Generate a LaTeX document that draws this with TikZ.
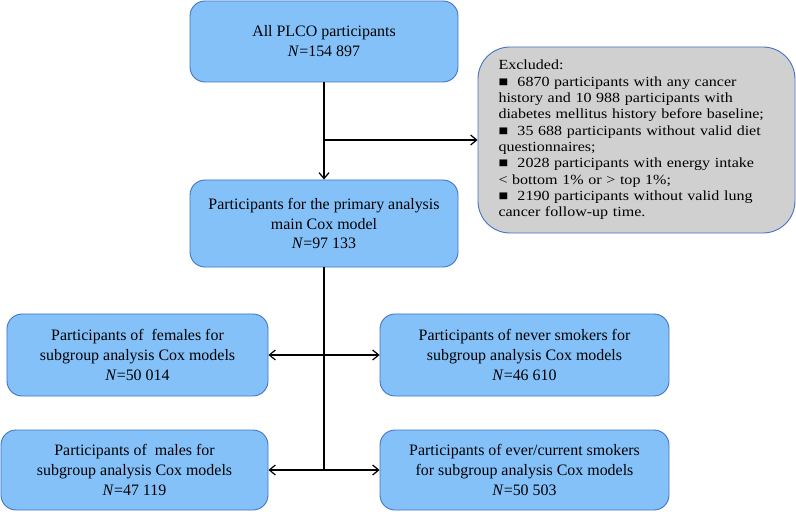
\documentclass[tikz,border=0pt]{standalone}
\usepackage{fontspec}
\setmainfont{Liberation Serif}
\newfontfamily\exclfont{Liberation Serif}[FakeStretch=1.15]
\usepackage{tikz}
\usetikzlibrary{arrows.meta,positioning}
\usepackage{xcolor}
\definecolor{boxfill}{RGB}{132,193,249}
\definecolor{boxline}{RGB}{68,114,196}
\definecolor{exclfill}{RGB}{208,208,208}

\begin{document}
\begin{tikzpicture}[x=1bp, y=-1bp,
    every node/.style={font=\fontsize{16}{20}\selectfont},
    stage/.style={draw=boxline, fill=boxfill, line width=0.9bp, rounded corners=15bp,
        align=center, inner sep=0pt},
    exclbox/.style={draw=boxline, fill=exclfill, line width=0.9bp, rounded corners=32bp,
        align=left, inner sep=0pt},
    flow/.style={line width=1.2bp, -{Straight Barb[length=6bp, width=10bp, line width=1.2bp]}},
    both/.style={line width=1.2bp, {Straight Barb[length=6bp, width=10bp, line width=1.2bp]}-{Straight Barb[length=6bp, width=10bp, line width=1.2bp]}}]
    \useasboundingbox (0,0) rectangle (796,512);

    \node[stage, minimum width=268bp, minimum height=81bp] (all) at (324,41.5)
        {All PLCO participants\\\textit{N}=154 897};
    \node[stage, minimum width=268bp, minimum height=87bp] (main) at (324,223.5)
        {Participants for the primary analysis\\main Cox model\\\textit{N}=97 133};
    \node[exclbox, minimum width=317bp, minimum height=186bp, text width=276bp,
        font=\exclfont\fontsize{14}{16.4}\selectfont] (excl) at (636.5,140)
        {Excluded:\\
        ■~ 6870 participants with any cancer\\
        history and 10 988 participants with\\
        diabetes mellitus history before baseline;\\
        ■~ 35 688 participants without valid diet\\
        questionnaires;\\
        ■~ 2028 participants with energy intake\\
        \textless{} bottom 1\% or \textgreater{} top 1\%;\\
        ■~ 2190 participants without valid lung\\
        cancer follow-up time.};
    \node[stage, minimum width=261bp, minimum height=82bp] (fem) at (137.5,355)
        {Participants of~ females for\\subgroup analysis Cox models\\\textit{N}=50 014};
    \node[stage, minimum width=267bp, minimum height=80bp] (male) at (134.5,470)
        {Participants of~ males for\\subgroup analysis Cox models\\\textit{N}=47 119};
    \node[stage, minimum width=289bp, minimum height=82bp] (never) at (524.5,355)
        {Participants of never smokers for\\subgroup analysis Cox models\\\textit{N}=46 610};
    \node[stage, minimum width=289bp, minimum height=80bp] (ever) at (524.5,470)
        {Participants of ever/current smokers\\for subgroup analysis Cox models\\\textit{N}=50 503};

    \coordinate (split) at (all.south |- excl.west);
    \coordinate (row1) at (main.south |- fem.east);
    \coordinate (row2) at (main.south |- male.east);

    \draw[flow] (all.south) -- (main.north);
    \draw[flow] (split) -- (excl.west);
    \draw[line width=1.2bp] (main.south) -- (row2);
    \draw[both] (fem.east) -- (never.west);
    \draw[both] (male.east) -- (ever.west);
\end{tikzpicture}
\end{document}
